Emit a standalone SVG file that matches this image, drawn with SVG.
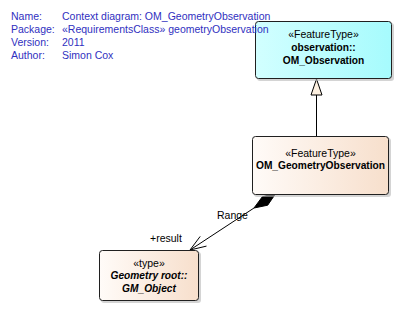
<svg xmlns="http://www.w3.org/2000/svg" width="402" height="331" viewBox="0 0 402 331">
  <defs>
    <linearGradient id="gradCyan" x1="0" y1="0" x2="1" y2="0">
      <stop offset="0" stop-color="#d2ffff"/>
      <stop offset="1" stop-color="#a6fbfd"/>
    </linearGradient>
    <linearGradient id="gradPeach" x1="0" y1="0" x2="1" y2="0">
      <stop offset="0" stop-color="#fffbf8"/>
      <stop offset="1" stop-color="#f7dfcc"/>
    </linearGradient>
    <style>
      text { font-family: "Liberation Sans", Arial, sans-serif; font-size: 10.5px; fill: #000; }
      .hdr { fill: #3030c0; }
      .c { text-anchor: middle; }
      .b { font-weight: bold; font-size: 10.2px; }
      .bi { font-weight: bold; font-style: italic; font-size: 10.2px; }
      .box { stroke: #202020; stroke-width: 1; }
      .shadow { fill: #b8b8b8; opacity: 0.6; }
      .edge { stroke: #000; stroke-width: 1; fill: none; }
    </style>
  </defs>

  <rect width="402" height="331" fill="#ffffff"/>

  <!-- connectors -->
  <g id="connectors">
    <!-- generalization: OM_GeometryObservation to OM_Observation -->
    <line class="edge" x1="316.5" y1="95" x2="316.5" y2="136"/>
    <polygon points="316.5,79 322,95 311,95" fill="#fdf0e0" stroke="#000" stroke-width="1"/>
    <!-- composition: OM_GeometryObservation to GM_Object -->
    <polygon points="276,193 267.7,205.2 254,208 262.3,196.8" fill="#000" stroke="#000" stroke-width="1"/>
    <line class="edge" x1="254" y1="208" x2="190" y2="250"/>
    <polyline class="edge" points="200.2,236.4 190,250 206.5,246.1"/>
    <text x="217" y="219">Range</text>
    <text x="150" y="242">+result</text>
  </g>

  <!-- observation::OM_Observation -->
  <g id="OM_Observation">
    <rect class="shadow" x="257" y="23" width="137" height="58" rx="3"/>
    <rect class="box" x="255.5" y="21.5" width="136" height="57" rx="3" fill="url(#gradCyan)"/>
    <text class="c" x="323.5" y="38">«FeatureType»</text>
    <text class="c b" x="323.5" y="51">observation::</text>
    <text class="c b" x="323.5" y="64">OM_Observation</text>
  </g>

  <!-- OM_GeometryObservation -->
  <g id="OM_GeometryObservation">
    <rect class="shadow" x="254" y="138" width="137" height="59" rx="3"/>
    <rect class="box" x="252.5" y="136.5" width="136" height="58" rx="3" fill="url(#gradPeach)"/>
    <text class="c" x="320.5" y="156.5">«FeatureType»</text>
    <text class="c b" x="320.5" y="168.5">OM_GeometryObservation</text>
  </g>

  <!-- Geometry root::GM_Object -->
  <g id="GM_Object">
    <rect class="shadow" x="101" y="252" width="100" height="51" rx="3"/>
    <rect class="box" x="99.5" y="250.5" width="99" height="50" rx="3" fill="url(#gradPeach)"/>
    <text class="c" x="149" y="266.5">«type»</text>
    <text class="c bi" x="149" y="279">Geometry root::</text>
    <text class="c bi" x="149" y="291.5">GM_Object</text>
  </g>

  <!-- diagram header, printed over the node layer -->
  <g id="header">
    <text class="hdr" x="11" y="19.5">Name:</text>
    <text class="hdr" x="62" y="19.5">Context diagram: OM_GeometryObservation</text>
    <text class="hdr" x="11" y="32.5">Package:</text>
    <text class="hdr" x="62" y="32.5">«RequirementsClass» geometryObservation</text>
    <text class="hdr" x="11" y="45.5">Version:</text>
    <text class="hdr" x="62" y="45.5">2011</text>
    <text class="hdr" x="11" y="58.5">Author:</text>
    <text class="hdr" x="62" y="58.5">Simon Cox</text>
  </g>
</svg>
